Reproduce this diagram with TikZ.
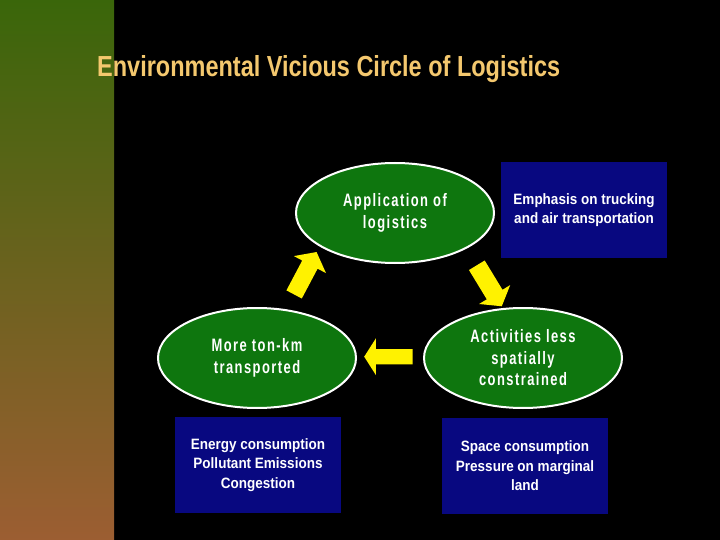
\documentclass[tikz,border=0pt]{standalone}
\usepackage{fontspec}
\setmainfont{Liberation Sans}
\newfontfamily\titlefont[FakeStretch=0.81]{Liberation Sans Bold}
\newfontfamily\ellfont[FakeStretch=0.72,LetterSpace=8]{Liberation Sans Bold}
\newfontfamily\boxfont[FakeStretch=0.9]{Liberation Sans Bold}
\usetikzlibrary{shapes.geometric,shapes.arrows}
\definecolor{ellgreen}{RGB}{14,118,14}
\definecolor{navy}{RGB}{8,8,128}
\definecolor{titlecol}{RGB}{244,200,110}
\definecolor{striptop}{RGB}{58,102,10}
\definecolor{stripbot}{RGB}{156,94,50}
\tikzset{
  x=1pt,y=-1pt,
  ell/.style={ellipse,draw=white,line width=2pt,fill=ellgreen,minimum width=198pt,minimum height=100pt,
    inner sep=0pt,text=white,align=center,font=\ellfont\fontsize{18}{21.5}\selectfont},
  bluebox/.style={rectangle,fill=navy,minimum width=166pt,minimum height=96pt,inner sep=0pt,
    text=white,align=center,font=\boxfont\fontsize{15}{19.5}\selectfont},
  blockarrow/.style={single arrow,fill=yellow,draw=none,inner xsep=0pt,inner ysep=8.5pt,
    single arrow head extend=9.5pt,single arrow tip angle=104,minimum height=#1}
}
\begin{document}
\begin{tikzpicture}
\fill[black] (0,0) rectangle (720,540);
\useasboundingbox (0,0) rectangle (720,540);
\shade[top color=striptop,bottom color=stripbot] (0,0) rectangle (114,540);
\node[anchor=base west,text=titlecol,font=\titlefont\fontsize{29}{32}\selectfont,inner sep=0pt] (title) at (97,77) {Environmental Vicious Circle of Logistics};
\node[ell] (app) at (395,213) {Application of\\logistics};
\node[ell] (more) at (257,358) {More ton-km\\transported};
\node[ell] (act) at (523,358) {Activities less\\spatially\\constrained};
\node[bluebox] (emph) at (584,210) {Emphasis on trucking\\and air transportation};
\node[bluebox] (energy) at (258,465) {Energy consumption\\Pollutant Emissions\\Congestion};
\node[bluebox] (space) at (525,466) {Space consumption\\Pressure on marginal\\land};
\node[blockarrow=48pt,rotate=62.1] (a1) at (303.75,276.25) {};
\node[blockarrow=48pt,inner ysep=9pt,single arrow head extend=9pt,single arrow tip angle=106,rotate=-58.7] (a2) at (487.5,282.8) {};
\node[blockarrow=48.3pt,inner ysep=7.5pt,single arrow head extend=10.8pt,single arrow tip angle=115,rotate=180] (a3) at (390.8,356.7) {};
\end{tikzpicture}
\end{document}
